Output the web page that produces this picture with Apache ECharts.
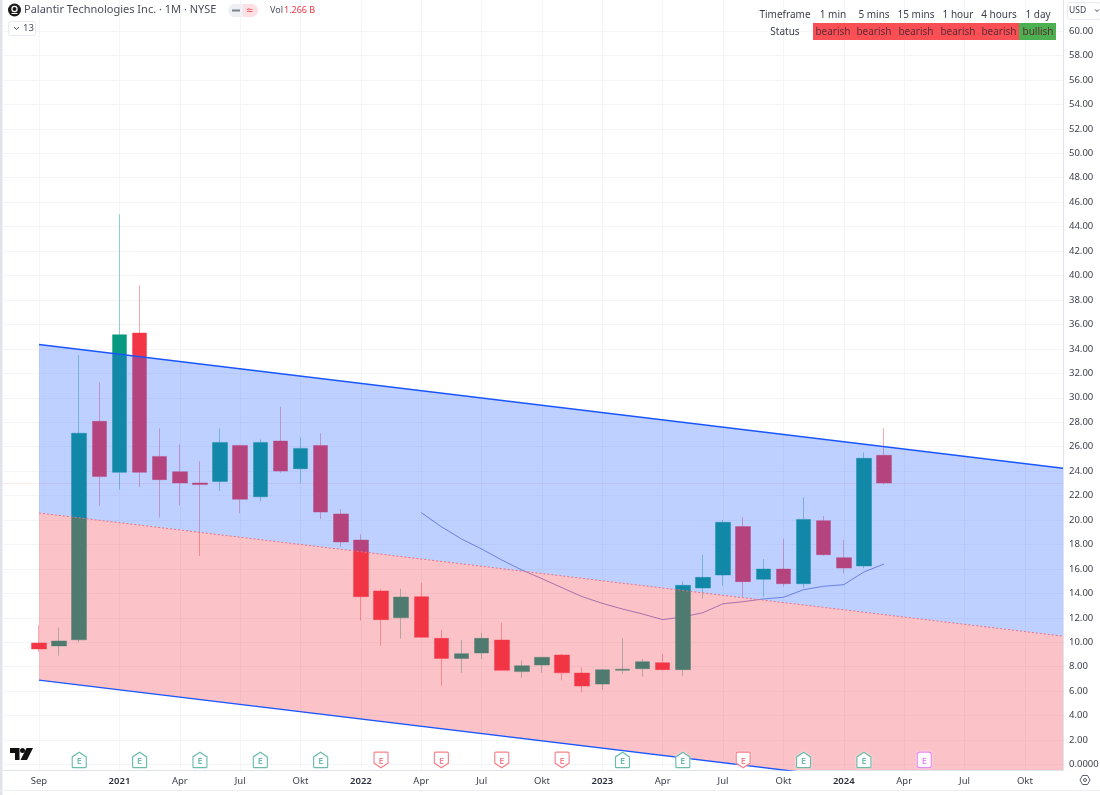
<!DOCTYPE html>
<html><head><meta charset="utf-8">
<style>html,body{margin:0;padding:0;background:#fff}#c{width:1100px;height:795px}</style>
<script src="https://cdn.jsdelivr.net/npm/echarts@6/dist/echarts.min.js"></script>
</head><body><div id="c"></div>
<script>
// Sep 2020 = month 0
const candleOpen  = [9.94,9.7,10.2,28.07,23.9,35.3,25.2,23.95,23.03,23.16,26.1,21.9,26.46,24.2,26.1,20.5,18.36,14.2,12.0,13.73,10.32,8.68,9.12,10.18,7.6,8.14,8.96,7.48,6.58,7.7,7.84,8.33,7.76,14.44,15.5,19.46,15.15,15.99,14.79,19.95,16.92,16.24,25.29];
const candleClose = [9.45,10.1,27.1,23.55,35.16,23.9,23.3,23.03,22.9,26.35,21.7,26.35,24.0,25.86,20.65,18.2,13.73,11.85,13.7,10.4,8.68,9.07,10.32,7.7,8.08,8.77,7.5,6.42,7.75,7.8,8.41,7.76,14.66,15.31,19.81,14.96,15.99,14.79,20.05,17.16,16.07,25.05,23.03];
const candleLow   = [9.2,8.9,10.0,21.17,22.5,22.7,20.2,21.2,17.06,22.37,20.55,21.5,23.87,23.0,20.08,17.8,11.77,9.72,10.3,10.4,6.42,7.5,8.63,7.7,7.1,7.5,6.88,5.9,6.09,7.43,7.18,7.7,7.26,13.57,14.63,13.73,13.73,14.55,14.47,17.08,15.64,16.05,22.93];
const candleHigh  = [11.41,11.2,33.5,31.26,45.0,39.2,27.5,26.2,24.8,27.5,26.15,26.6,29.27,26.76,27.1,20.9,18.85,14.33,14.38,14.87,11.0,10.18,10.76,11.6,8.52,8.8,9.03,7.95,7.81,10.32,8.63,9.04,14.98,17.16,20.0,20.22,16.8,18.47,21.85,20.33,18.36,25.54,27.53];
const avgStartMonth = 19;
const avgValues = [20.6,19.45,18.45,17.63,16.73,15.91,15.2,14.46,13.73,13.18,12.72,12.31,11.85,12.07,12.42,13.15,13.32,13.54,13.68,14.3,14.58,14.71,15.75,16.4];
const channelMonths = [0,50.895];
const upperBound = [34.36,24.24];
const midBound = [20.57,10.5];
const lowerBound = [6.9,-3.21];
const lastPrice = 23.03;
const xTickMonths = [0,4,7,10,13,16,19,22,25,28,31,34,37,40,43,46,49];
const xTickLabels = ['Sep','2021','Apr','Jul','Okt','2022','Apr','Jul','Okt','2023','Apr','Jul','Okt','2024','Apr','Jul','Okt'];
const yTicks = [0,2,4,6,8,10,12,14,16,18,20,22,24,26,28,30,32,34,36,38,40,42,44,46,48,50,52,54,56,58,60];
const earningsMonths = [2,5,8,11,14,17,20,23,26,29,32,35,38,41,44];
const earningsKinds = ['up','up','up','up','up','down','down','down','down','up','up','down','up','up','next'];
const timeframes = ['1 min','5 mins','15 mins','1 hour','4 hours','1 day'];
const statuses = ['bearish','bearish','bearish','bearish','bearish','bullish'];

const FONT = '"Noto Sans",sans-serif';
const UP = '#089981', DOWN = '#f23645';
const badgeStyle = {
  up:   {path:'path://M1,4.5 L7,0 L13,4.5 L13,14 Q13,15 12,15 L2,15 Q1,15 1,14 Z', c:'#45ab98'},
  down: {path:'path://M2,0 L12,0 Q13,0 13,1 L13,10.5 L7,15 L1,10.5 L1,1 Q1,0 2,0 Z', c:'#f4616d'},
  next: {path:'path://M3,1 L11,1 Q13,1 13,3 L13,13 Q13,15 11,15 L3,15 Q1,15 1,13 L1,3 Q1,1 3,1 Z', c:'#e36bf5'}
};
const candleData = candleOpen.map((o,i)=>[i,o,candleClose[i],candleLow[i],candleHigh[i]]);
const avgData = avgValues.map((v,i)=>[avgStartMonth+i,v]);
const tickName = Object.fromEntries(xTickMonths.map((m,i)=>[m,xTickLabels[i]]));

function txt(t,x,y,size,fill,align,weight){return {type:'text',z:50,style:{text:t,x,y,fill,font:(weight||'normal')+' '+size+'px '+FONT,align:align||'left',verticalAlign:'middle'}};}
const gfx = [
  {type:'rect',z:50,shape:{x:0,y:0,width:2.5,height:795},style:{fill:'#e0e3eb'}},
  {type:'line',z:50,shape:{x1:0,y1:790.5,x2:1100,y2:790.5},style:{stroke:'#eceef2',lineWidth:1}},
  // symbol logo
  {type:'circle',z:50,shape:{cx:14.5,cy:10,r:6.5},style:{fill:'#1c1c1c'}},
  {type:'circle',z:51,shape:{cx:14.5,cy:9,r:2.6},style:{fill:'none',stroke:'#fff',lineWidth:1.2}},
  {type:'line',z:51,shape:{x1:11.5,y1:13.5,x2:17.5,y2:13.5},style:{stroke:'#fff',lineWidth:1}},
  txt('Palantir Technologies Inc. · 1M · NYSE',24,10,11,'#4a4e5a'),
  {type:'rect',z:50,shape:{x:228,y:4,width:15,height:13,r:[6.5,0,0,6.5]},style:{fill:'#eef0f4'}},
  {type:'rect',z:50,shape:{x:243,y:4,width:15,height:13,r:[0,6.5,6.5,0]},style:{fill:'#fde0e3'}},
  {type:'rect',z:51,shape:{x:232,y:9.5,width:8,height:2},style:{fill:'#7d8291'}},
  txt('≈',249.5,10.5,11,'#f23645','center'),
  txt('Vol',270,10,9,'#4a4e5a'),
  txt('1.266 B',284,10,9,'#f23645'),
  {type:'rect',z:50,shape:{x:8.5,y:21.5,width:27,height:14,r:2},style:{fill:'#fff',stroke:'#e8eaef'}},
  {type:'polyline',z:51,shape:{points:[[14,27],[16.5,29.5],[19,27]]},style:{stroke:'#4a4e5a',fill:'none',lineWidth:1}},
  txt('13',23,28.5,9.5,'#4a4e5a'),
  txt('Timeframe',785,15,10,'#3a3e4a','center'),
  txt('Status',785,32,10,'#3a3e4a','center'),
  {type:'rect',z:50,shape:{x:813,y:23,width:206,height:17},style:{fill:'#fa5055'}},
  {type:'rect',z:50,shape:{x:1019,y:23,width:37,height:17},style:{fill:'#4caf50'}},
  // price scale box
  {type:'rect',z:50,shape:{x:1067.5,y:2.5,width:33,height:17,r:2},style:{fill:'#fff',stroke:'#e8eaef'}},
  txt('USD',1069,11,8.5,'#3a3e4a'),
  {type:'polyline',z:51,shape:{points:[[1095,9.5],[1097,11.5],[1099,9.5]]},style:{stroke:'#3a3e4a',fill:'none',lineWidth:1}},
  // settings icon
  {type:'polygon',z:50,shape:{points:[[1080,780],[1082.5,775.5],[1087.5,775.5],[1090,780],[1087.5,784.5],[1082.5,784.5]]},style:{fill:'#fff',stroke:'#5a5e6a',lineWidth:1}},
  {type:'circle',z:50,shape:{cx:1085,cy:780,r:1.5},style:{fill:'#fff',stroke:'#5a5e6a',lineWidth:1}},
  // chart brand mark
  {type:'polygon',z:50,shape:{points:[[10,748],[19.5,748],[19.5,760],[15,760],[15,753],[10,753]]},style:{fill:'#111'}},
  {type:'circle',z:50,shape:{cx:22.5,cy:750.5,r:2.5},style:{fill:'#111'}},
  {type:'polygon',z:50,shape:{points:[[26.5,748],[33,748],[27,760],[20.5,760]]},style:{fill:'#111'}}
];
const colX = [833,874,916,958,999,1038];
timeframes.forEach((t,i)=>gfx.push(txt(t,colX[i],15,10,'#3a3e4a','center')));
statuses.forEach((t,i)=>gfx.push(txt(t,colX[i],32,10,'#5e2a35','center')));

const chart = echarts.init(document.getElementById('c'),null,{renderer:'canvas'});
chart.setOption({
  animation:false,
  backgroundColor:'#fff',
  textStyle:{fontFamily:FONT},
  graphic:gfx,
  grid:{left:3,top:0,width:1060,height:770,containLabel:false,outerBoundsMode:'none'},
  xAxis:{type:'value',min:-1.789,max:50.895,
    axisLine:{show:true,onZero:false,lineStyle:{color:'#e0e3eb'}},
    axisTick:{show:false,customValues:xTickMonths},
    splitLine:{show:true,lineStyle:{color:'#f4f5f8'}},
    axisLabel:{customValues:xTickMonths,margin:5,padding:[1,0,0,0],color:'#3a3e4a',fontSize:9.5,fontFamily:FONT,showMinLabel:true,showMaxLabel:true,
      formatter:v=>{const s=tickName[Math.round(v)]||'';return /^\d/.test(s)?'{b|'+s+'}':s;},
      rich:{b:{fontWeight:600,color:'#2a2e39',fontSize:9.5,fontFamily:FONT}}}},
  yAxis:{type:'value',position:'right',min:-0.45,max:62.54,
    axisLine:{show:true,onZero:false,lineStyle:{color:'#e0e3eb'}},
    axisTick:{show:false,customValues:yTicks},
    splitLine:{show:true,lineStyle:{color:'#f4f5f8'}},
    axisLabel:{customValues:yTicks,margin:6,padding:[2,0,0,0],color:'#3a3e4a',fontSize:9.5,fontFamily:FONT,
      formatter:v=>v===0?'0.0000':v.toFixed(2)}},
  series:[
    {type:'candlestick',name:'PLTR',z:2,barWidth:15,data:candleData,clip:true,
      itemStyle:{color:UP,color0:DOWN,borderColor:'rgba(8,153,129,0.42)',borderColor0:'rgba(242,54,69,0.42)',borderWidth:1},
      markLine:{silent:true,symbol:'none',label:{show:false},z:2,lineStyle:{color:'rgba(242,54,69,0.1)',type:'solid',width:1},data:[{yAxis:lastPrice}]}},
    {type:'line',name:'avg',z:2,data:avgData,showSymbol:false,lineStyle:{color:'#4a4fc8',width:1,opacity:0.65}},
    {type:'custom',name:'zones',z:3,clip:true,silent:true,
      data:[[channelMonths[0],channelMonths[1],upperBound[0],upperBound[1],midBound[0],midBound[1],0],
            [channelMonths[0],channelMonths[1],midBound[0],midBound[1],lowerBound[0],lowerBound[1],1]],
      encode:{x:[0,1],y:[2,3,4,5]},
      renderItem:(p,api)=>{
        const a=api.coord([api.value(0),api.value(2)]),b=api.coord([api.value(1),api.value(3)]),
              c=api.coord([api.value(1),api.value(5)]),d=api.coord([api.value(0),api.value(4)]);
        return {type:'polygon',shape:{points:[a,b,c,d]},style:{fill:api.value(6)===0?'rgba(41,98,255,0.3)':'rgba(242,54,69,0.3)'}};
      }},
    {type:'line',name:'upper',z:4,showSymbol:false,data:channelMonths.map((m,i)=>[m,upperBound[i]]),lineStyle:{color:'#1a56ff',width:1.4}},
    {type:'line',name:'lower',z:4,showSymbol:false,data:channelMonths.map((m,i)=>[m,lowerBound[i]]),lineStyle:{color:'#1a56ff',width:1.4}},
    {type:'line',name:'mid',z:4,showSymbol:false,data:channelMonths.map((m,i)=>[m,midBound[i]]),lineStyle:{color:'#f0707f',width:1,type:[2,2]}},
    {type:'scatter',name:'earnings',z:5,clip:false,
      data:earningsMonths.map((m,i)=>{const s=badgeStyle[earningsKinds[i]];return {value:[m,0.37],symbol:s.path,symbolSize:[14,15.5],
        itemStyle:{color:'#fff',borderColor:s.c,borderWidth:1.2,shadowColor:'#fff',shadowBlur:2},
        label:{show:true,position:'inside',formatter:'E',offset:[0,1],color:s.c,fontSize:9,fontWeight:600,fontFamily:FONT}};})}
  ]
});
</script></body></html>
